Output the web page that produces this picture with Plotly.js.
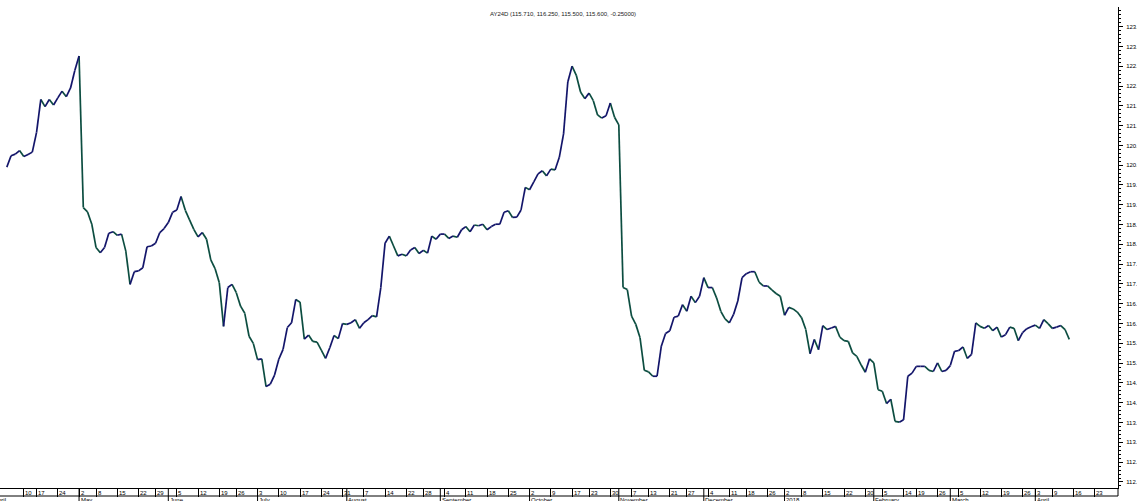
<!DOCTYPE html>
<html>
<head>
<meta charset="utf-8">
<script src="https://cdn.plot.ly/plotly-3.0.1.min.js"></script>
<style>
  html, body { margin: 0; padding: 0; background: #fff; overflow: hidden; }
  #chart { width: 1137px; height: 501px; }
</style>
</head>
<body>
<div id="chart"></div>
<script>
// ---- Data (daily closes, one per trading day) ----
const closes = [
  119.95, 120.24, 120.28, 120.37, 120.22, 120.27, 120.33, 120.83, 121.66, 121.48,
  121.66, 121.52, 121.70, 121.87, 121.73, 121.95, 122.39, 122.76, 118.93, 118.82,
  118.51, 117.92, 117.79, 117.92, 118.28, 118.32, 118.23, 118.26, 117.83, 116.99,
  117.31, 117.33, 117.41, 117.94, 117.96, 118.03, 118.30, 118.40, 118.55, 118.81,
  118.87, 119.21, 118.86, 118.62, 118.38, 118.19, 118.30, 118.13, 117.61, 117.39,
  117.03, 115.93, 116.91, 116.99, 116.78, 116.44, 116.26, 115.68, 115.50, 115.09,
  115.11, 114.41, 114.47, 114.70, 115.10, 115.35, 115.90, 116.02, 116.61, 116.54,
  115.61, 115.71, 115.55, 115.53, 115.33, 115.12, 115.39, 115.70, 115.62, 116.00,
  115.98, 116.02, 116.10, 115.88, 116.02, 116.10, 116.20, 116.17, 116.91, 118.03,
  118.21, 117.96, 117.71, 117.75, 117.71, 117.86, 117.92, 117.77, 117.85, 117.78,
  118.21, 118.13, 118.26, 118.26, 118.15, 118.21, 118.18, 118.37, 118.45, 118.32,
  118.49, 118.47, 118.51, 118.37, 118.45, 118.51, 118.51, 118.81, 118.85, 118.68,
  118.69, 118.87, 119.44, 119.38, 119.58, 119.78, 119.86, 119.73, 119.90, 119.88,
  120.20, 120.79, 122.10, 122.50, 122.27, 121.85, 121.68, 121.82, 121.63, 121.27,
  121.19, 121.25, 121.57, 121.21, 121.02, 116.91, 116.86, 116.19, 115.98, 115.64,
  114.82, 114.78, 114.67, 114.67, 115.43, 115.75, 115.82, 116.16, 116.19, 116.48,
  116.31, 116.69, 116.53, 116.69, 117.16, 116.91, 116.91, 116.65, 116.31, 116.12,
  116.02, 116.23, 116.57, 117.16, 117.26, 117.31, 117.31, 117.05, 116.95, 116.95,
  116.85, 116.76, 116.69, 116.21, 116.41, 116.37, 116.29, 116.15, 115.85, 115.24,
  115.60, 115.34, 115.95, 115.85, 115.89, 115.93, 115.66, 115.57, 115.55, 115.26,
  115.17, 114.96, 114.77, 115.11, 115.01, 114.33, 114.29, 113.98, 114.09, 113.53,
  113.51, 113.57, 114.67, 114.75, 114.92, 114.92, 114.92, 114.82, 114.79, 115.01,
  114.79, 114.82, 114.94, 115.30, 115.32, 115.41, 115.12, 115.22, 116.02, 115.93,
  115.88, 115.95, 115.82, 115.91, 115.66, 115.72, 115.91, 115.88, 115.57, 115.77,
  115.87, 115.92, 115.96, 115.88, 116.10, 116.00, 115.88, 115.91, 115.95, 115.85,
  115.60
];

// Week-start tick labels (day of month) and their trading-day index
const weekLabels = ["10","17","24","2","8","15","22","29","5","12","19","26","3","10","17","24","31",
  "7","14","22","28","4","11","18","25","2","9","17","23","30","7","13","21","27","4","11","18","26",
  "2","8","15","22","30","5","14","19","26","5","12","19","26","3","9","16","23"];
const weekIdx = [4,7,12,17,21,26,31,35,40,45,50,54,59,64,69,74,79,84,89,94,98,103,108,113,118,
  123,128,133,137,142,147,151,156,160,165,170,174,179,183,187,192,197,202,206,211,214,219,
  224,229,234,239,242,246,251,256];

// Month labels and the trading-day index where each month begins
const monthLabels = ["April","May","June","July","August","September","October","November",
  "December","2018","February","March","April"];
const monthIdx = [-3.3,17,38,59,80,102,123,144,164,183,204,222,242];

const titleText = "AY24D (115.710, 116.250, 115.500, 115.600, -0.25000)";

// ---- Layout geometry ----
const W = 1137, H = 501;
const mL = 0, mR = 19, mT = 7, mB = 13;
const plotH = H - mT - mB;            // 481
const xMin = -1.6, xMax = 261.46;
const yMin = 111.848, yMax = 123.995;
const bandBottomPx = 8;               // px below plot bottom

function xp(idx) { return (idx - xMin) / (xMax - xMin); }
function yp(pxBelow) { return -pxBelow / plotH; }

// ---- Up / down coloured segments ----
const upCol = '#13156a', dnCol = '#0c4d40';
const up = {x: [], y: []}, dn = {x: [], y: []};
for (let i = 0; i < closes.length - 1; i++) {
  const t = closes[i + 1] >= closes[i] ? up : dn;
  t.x.push(i, i + 1, null);
  t.y.push(closes[i], closes[i + 1], null);
}
const traces = [
  {type: 'scatter', mode: 'lines', x: dn.x, y: dn.y, line: {color: dnCol, width: 1.7}, hoverinfo: 'skip', connectgaps: false},
  {type: 'scatter', mode: 'lines', x: up.x, y: up.y, line: {color: upCol, width: 1.7}, hoverinfo: 'skip', connectgaps: false}
];

// ---- Date band below the plot ----
const font6 = {family: 'Liberation Sans, Arial, sans-serif', size: 6, color: '#000'};
const shapes = [
  {type: 'line', xref: 'paper', yref: 'paper', x0: 0, x1: 1, y0: yp(bandBottomPx), y1: yp(bandBottomPx),
   line: {color: '#000', width: 1}},
  {type: 'line', xref: 'paper', yref: 'paper', x0: 1, x1: 1, y0: 0, y1: yp(bandBottomPx),
   line: {color: '#000', width: 1}}
];
monthIdx.forEach(m => {
  if (m >= 0) shapes.push({type: 'line', xref: 'paper', yref: 'paper', x0: xp(m), x1: xp(m),
    y0: 0, y1: yp(16), line: {color: '#000', width: 1}});
});

const annotations = [];
weekLabels.forEach((t, k) => {
  annotations.push({xref: 'paper', yref: 'paper', x: xp(weekIdx[k]) + 1.5 / (W - mL - mR), y: yp(4.6),
    xanchor: 'left', yanchor: 'middle', text: t, showarrow: false, font: font6,
    borderpad: 0, borderwidth: 0});
});
monthLabels.forEach((t, k) => {
  annotations.push({xref: 'paper', yref: 'paper', x: xp(monthIdx[k]) + 1.5 / (W - mL - mR), y: yp(9),
    xanchor: 'left', yanchor: 'top', text: t, showarrow: false, font: font6,
    borderpad: 0, borderwidth: 0});
});

const layout = {
  width: W, height: H, autosize: false,
  margin: {l: mL, r: mR, t: mT, b: mB, pad: 0},
  paper_bgcolor: '#fff', plot_bgcolor: '#fff',
  showlegend: false,
  title: {text: titleText, x: 563 / W, xref: 'container', xanchor: 'center',
          y: 1 - 14 / H, yref: 'container', yanchor: 'middle',
          font: {family: 'Liberation Sans, Arial, sans-serif', size: 6, color: '#222'}},
  xaxis: {range: [xMin, xMax], showgrid: false, zeroline: false, showticklabels: false,
          tickmode: 'array', tickvals: weekIdx, ticks: 'outside', ticklen: bandBottomPx,
          tickcolor: '#000', tickwidth: 1, showline: true, linecolor: '#000', linewidth: 1,
          fixedrange: true},
  yaxis: {range: [yMin, yMax], side: 'right', showgrid: false, zeroline: false,
          tickmode: 'linear', tick0: 112, dtick: 0.5, tickformat: '.1f',
          ticks: 'outside', ticklen: 4, tickwidth: 1, tickcolor: '#000',
          showline: true, linecolor: '#000', linewidth: 1, ticklabelstandoff: 2,
          tickfont: font6, fixedrange: true,
          minor: {tick0: 112, dtick: 0.1, ticks: 'outside', ticklen: 2, tickwidth: 1,
                  tickcolor: '#000', showgrid: false}},
  shapes: shapes,
  annotations: annotations
};

Plotly.newPlot('chart', traces, layout, {staticPlot: true, displayModeBar: false});
</script>
</body>
</html>
